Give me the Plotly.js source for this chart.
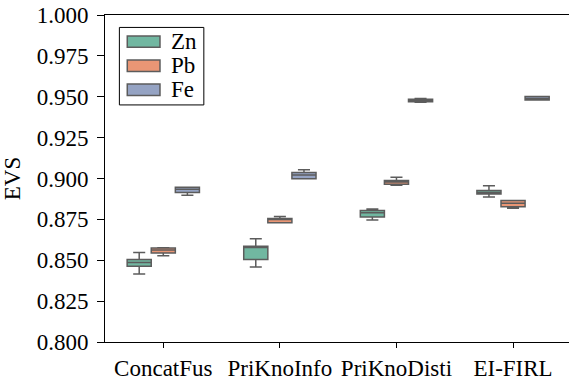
<!DOCTYPE html>
<html>
<head>
<meta charset="utf-8">
<script src="https://cdn.plot.ly/plotly-3.0.1.min.js"></script>
<style>
  html, body { margin: 0; padding: 0; background: #fff; }
  #chart { width: 569px; height: 381px; }
</style>
</head>
<body>
<div id="chart"></div>
<script>
// Methods compared on the x axis
const methods = ['ConcatFus', 'PriKnoInfo', 'PriKnoDisti', 'EI-FIRL'];

// Box statistics (EVS) per element, one value per method
const znLower  = [0.8416, 0.8459, 0.8746, 0.8887];
const znQ1     = [0.8463, 0.8504, 0.8765, 0.8905];
const znMedian = [0.8486, 0.8578, 0.8790, 0.8915];
const znQ3     = [0.8504, 0.8585, 0.8805, 0.8926];
const znUpper  = [0.8547, 0.8632, 0.8813, 0.8956];

const pbLower  = [0.8528, 0.8730, 0.8958, 0.8818];
const pbQ1     = [0.8545, 0.8730, 0.8965, 0.8827];
const pbMedian = [0.8562, 0.8752, 0.8978, 0.8848];
const pbQ3     = [0.8575, 0.8756, 0.8988, 0.8866];
const pbUpper  = [0.8577, 0.8767, 0.9007, 0.8866];

const feLower  = [0.8897, 0.8998, 0.9466, 0.9480];
const feQ1     = [0.8915, 0.8998, 0.9470, 0.9480];
const feMedian = [0.8935, 0.9022, 0.9477, 0.9490];
const feQ3     = [0.8947, 0.9037, 0.9484, 0.9502];
const feUpper  = [0.8947, 0.9054, 0.9490, 0.9502];

const seriesNames = ['Zn', 'Pb', 'Fe'];
const fillColors = ['#71b7a1', '#e99675', '#95a3c3'];
const edgeColor = '#5c5c5c';
const fontFamily = 'Liberation Serif, serif';
const fontSize = 23;

const stats = [
  [znLower, znQ1, znMedian, znQ3, znUpper],
  [pbLower, pbQ1, pbMedian, pbQ3, pbUpper],
  [feLower, feQ1, feMedian, feQ3, feUpper]
];

const traces = stats.map(function (s, i) {
  return {
    type: 'box',
    name: seriesNames[i],
    x: methods,
    lowerfence: s[0],
    q1: s[1],
    median: s[2],
    q3: s[3],
    upperfence: s[4],
    boxpoints: false,
    fillcolor: fillColors[i],
    line: { color: edgeColor, width: 1.5 },
    whiskerwidth: 0.5,
    showlegend: false,
    hoverinfo: 'skip'
  };
});

// Legend drawn as a framed list of wide swatches in the upper-left corner
const shapes = [];
const annotations = [];
const rowTop = 0.936, rowPitch = 0.0735, swH = 0.035;
shapes.push({
  type: 'rect', xref: 'paper', yref: 'paper',
  x0: 0.031, x1: 0.213, y0: 0.725, y1: 0.962,
  line: { color: '#000', width: 1 }, fillcolor: 'rgba(255,255,255,0.9)', layer: 'above'
});
seriesNames.forEach(function (name, i) {
  const yt = rowTop - i * rowPitch;
  shapes.push({
    type: 'rect', xref: 'paper', yref: 'paper',
    x0: 0.048, x1: 0.1185, y0: yt - swH, y1: yt,
    fillcolor: fillColors[i], line: { color: edgeColor, width: 1.5 }, layer: 'above'
  });
  annotations.push({
    xref: 'paper', yref: 'paper', x: 0.138, y: yt - swH / 2,
    xanchor: 'left', yanchor: 'middle', showarrow: false,
    text: name, font: { family: fontFamily, size: fontSize, color: '#000' }
  });
});

const axisFont = { family: fontFamily, size: fontSize, color: '#000' };

const layout = {
  width: 569,
  height: 381,
  margin: { l: 105, r: 0, t: 15, b: 39 },
  paper_bgcolor: '#fff',
  plot_bgcolor: '#fff',
  font: axisFont,
  boxmode: 'group',
  boxgap: 0.38,
  boxgroupgap: 0,
  showlegend: false,
  xaxis: {
    type: 'category',
    range: [-0.5, 3.48],
    showline: true,
    linecolor: '#000',
    linewidth: 1,
    mirror: true,
    ticks: 'outside',
    ticklen: 5,
    tickcolor: '#000',
    showgrid: false,
    zeroline: false,
    tickfont: axisFont
  },
  yaxis: {
    title: { text: 'EVS', font: axisFont, standoff: 10 },
    range: [0.8, 1.0],
    tickmode: 'linear',
    tick0: 0.8,
    dtick: 0.025,
    tickformat: '.3f',
    showline: true,
    linecolor: '#000',
    linewidth: 1,
    ticks: 'outside',
    ticklen: 7,
    ticklabelstandoff: 4,
    tickcolor: '#000',
    showgrid: false,
    zeroline: false,
    tickfont: axisFont
  },
  shapes: shapes,
  annotations: annotations
};

Plotly.newPlot('chart', traces, layout, { displayModeBar: false, staticPlot: true });
</script>
</body>
</html>
